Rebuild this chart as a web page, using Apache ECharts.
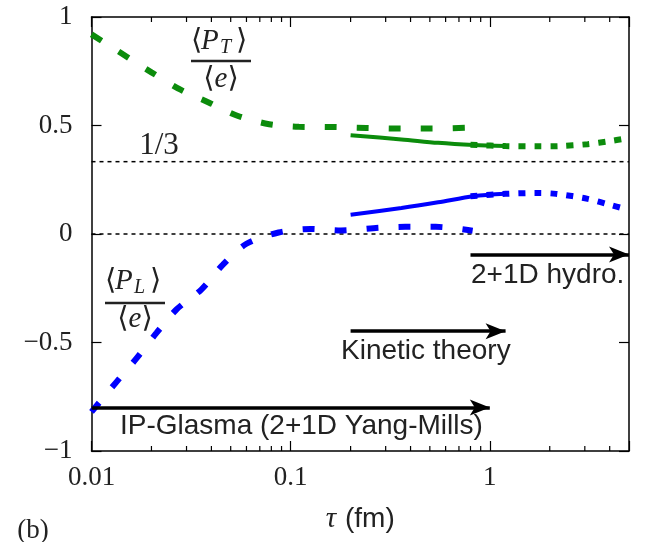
<!DOCTYPE html>
<html><head><meta charset="utf-8">
<script src="https://cdn.jsdelivr.net/npm/echarts@6/dist/echarts.min.js"></script>
<style>html,body{margin:0;padding:0;background:#fff}#c{width:647px;height:542px}</style>
</head><body><div id="c"></div>
<script>
// ---- axis ticks ----
const xMajorTicks = [0.01, 0.1, 1];
const xTickLabels = ['0.01', '0.1', '1'];
const xMinorTicks = [0.02,0.03,0.04,0.05,0.06,0.07,0.08,0.09,0.2,0.3,0.4,0.5,0.6,0.7,0.8,0.9,2,3,4];
const yTickValues = [-1, -0.5, 0, 0.5, 1];

// ---- <P_T>/<e> ----
const ptGlasmaTau = [0.01, 0.014, 0.02, 0.028, 0.039, 0.054, 0.078, 0.11, 0.16, 0.24, 0.35, 0.5, 0.8];
const ptGlasma    = [0.92, 0.835, 0.745, 0.665, 0.605, 0.545, 0.506, 0.494, 0.493, 0.489, 0.486, 0.486, 0.49];
const ptKineticTau = [0.2, 0.36, 0.55, 0.83, 1.2];
const ptKinetic    = [0.455, 0.436, 0.42, 0.41, 0.405];
const ptHydroTau = [0.8, 1.2, 1.75, 2.2, 3.1, 4.0, 4.8];
const ptHydro    = [0.411, 0.405, 0.404, 0.405, 0.414, 0.428, 0.44];

// ---- <P_L>/<e> ----
const plGlasmaTau = [0.01, 0.0132, 0.0169, 0.0212, 0.0267, 0.0356, 0.0457, 0.06, 0.087, 0.126, 0.179, 0.26, 0.376, 0.536, 0.82];
const plGlasma    = [-0.82, -0.687, -0.571, -0.456, -0.348, -0.256, -0.141, -0.045, 0.007, 0.023, 0.016, 0.027, 0.033, 0.033, 0.015];
const plKineticTau = [0.2, 0.36, 0.55, 0.83, 1.2];
const plKinetic    = [0.089, 0.12, 0.146, 0.174, 0.185];
const plHydroTau = [0.8, 1.2, 1.75, 2.15, 3.1, 4.0, 4.8];
const plHydro    = [0.174, 0.185, 0.189, 0.185, 0.162, 0.135, 0.115];

// ---- reference lines ----
const refLevels = [1/3, 0];
const refRange = [0.01, 5];

// ---- arrows (regimes) ----
const arrowNames = ['2+1D hydro.', 'Kinetic theory', 'IP-Glasma (2+1D Yang-Mills)'];
const arrowStart = [0.8, 0.2, 0.01];
const arrowEnd   = [5, 1.2, 1.0];
const arrowLevel = [-0.095, -0.448, -0.80];

const GREEN = '#0c8c0c', BLUE = '#0000ff', INK = '#222';
const SERIF = '"Liberation Serif","DejaVu Serif",serif';
const SANS = '"Liberation Sans",Arial,sans-serif';

const zip = (a, b) => a.map((v, i) => [v, b[i]]);

function lineSeries(xs, ys, color, width, dash) {
  return {
    type: 'line', data: zip(xs, ys), showSymbol: false, symbol: 'none',
    smooth: 0.3, silent: true, clip: false,
    lineStyle: { color: color, width: width, type: dash, cap: 'butt' }
  };
}

const chart = echarts.init(document.getElementById('c'), null, { renderer: 'canvas' });

const axisCommonX = {
  type: 'log', logBase: 10, min: 0.01, max: 5,
  axisLine: { show: true, onZero: false, lineStyle: { color: '#000', width: 1.5 } },
  axisTick: { show: true, inside: true, length: 10, lineStyle: { color: '#000', width: 1.2 } },
  splitLine: { show: false }, minorTick: { show: false }
};
const axisCommonY = {
  type: 'value', min: -1, max: 1, interval: 0.5,
  axisLine: { show: true, onZero: false, lineStyle: { color: '#000', width: 1.5 } },
  axisTick: { show: true, inside: true, length: 10, lineStyle: { color: '#000', width: 1.2 } },
  splitLine: { show: false }
};

const series = [];
// reference dotted lines
refLevels.forEach(l => {
  series.push({
    type: 'line', data: [[refRange[0], l], [refRange[1], l]], showSymbol: false, symbol: 'none',
    silent: true, lineStyle: { color: '#000', width: 1.5, type: [4, 4] }
  });
});
series.push(lineSeries(ptGlasmaTau, ptGlasma, GREEN, 6, [12, 20]));
series.push(lineSeries(ptKineticTau, ptKinetic, GREEN, 4, 'solid'));
series.push(lineSeries(ptHydroTau, ptHydro, GREEN, 6, [7, 9]));
series.push(lineSeries(plGlasmaTau, plGlasma, BLUE, 6, [12, 20]));
series.push(lineSeries(plKineticTau, plKinetic, BLUE, 4, 'solid'));
series.push(lineSeries(plHydroTau, plHydro, BLUE, 6, [7, 9]));
// arrows
series.push({
  type: 'line', data: [], silent: true,
  markLine: {
    silent: true, symbol: ['none', 'arrow'], symbolSize: [12, 20], animation: false,
    label: { show: false },
    lineStyle: { color: '#000', width: 3.5, type: 'solid' },
    emphasis: { disabled: true },
    data: arrowStart.map((s, i) => [{ coord: [s, arrowLevel[i]] }, { coord: [arrowEnd[i], arrowLevel[i]] }])
  }
});
// minor ticks on log axis (bottom and top)
series.push({
  type: 'custom', silent: true, clip: false,
  data: xMinorTicks.map(v => [v, 0]), encode: { x: 0, y: 1 },
  renderItem: (params, api) => {
    const v = api.value(0);
    const b = api.coord([v, -1]), t = api.coord([v, 1]);
    return { type: 'group', children: [
      { type: 'line', shape: { x1: b[0], y1: b[1], x2: b[0], y2: b[1] - 5 }, style: { stroke: '#000', lineWidth: 1.2 } },
      { type: 'line', shape: { x1: t[0], y1: t[1], x2: t[0], y2: t[1] + 5 }, style: { stroke: '#000', lineWidth: 1.2 } }
    ]};
  }
});

function txt(x, y, text, font, size, opts) {
  return Object.assign({
    type: 'text', x: x, y: y, silent: true,
    style: Object.assign({ text: text, fontFamily: font, fontSize: size, fill: INK, align: 'left', verticalAlign: 'middle' }, opts || {})
  });
}
function frac(cx, numY, barY, denY, sub) {
  return { type: 'group', silent: true, children: [
    txt(cx - 30, numY, '⟨', SERIF, 29),
    txt(cx - 20, numY, 'P', SERIF, 29, { fontStyle: 'italic' }),
    txt(cx - 1, numY + 7, sub, SERIF, 20, { fontStyle: 'italic' }),
    txt(cx + 15, numY, '⟩', SERIF, 29),
    { type: 'line', shape: { x1: cx - 30, y1: barY, x2: cx + 30, y2: barY }, style: { stroke: INK, lineWidth: 2.6 } },
    { type: 'text', x: cx, y: denY, style: { text: '{n|⟨}{e|e}{n|⟩}', align: 'center', verticalAlign: 'middle',
        rich: { n: { fontFamily: SERIF, fontSize: 29, fill: INK }, e: { fontFamily: SERIF, fontSize: 29, fontStyle: 'italic', fill: INK } } } }
  ]};
}

chart.setOption({
  animation: false,
  backgroundColor: '#fff',
  grid: { left: 91.5, right: 18, top: 17, bottom: 91 },
  xAxis: [
    Object.assign({}, axisCommonX, {
      position: 'bottom',
      axisLabel: {
        show: true, margin: 13, fontFamily: SERIF, fontSize: 27, color: INK,
        formatter: v => { const i = xMajorTicks.findIndex(m => Math.abs(m - v) / m < 1e-6); return i >= 0 ? xTickLabels[i] : ''; }
      }
    }),
    Object.assign({}, axisCommonX, { position: 'top', axisLabel: { show: false } })
  ],
  yAxis: [
    Object.assign({}, axisCommonY, {
      position: 'left',
      axisLabel: {
        show: true, margin: 19, fontFamily: SERIF, fontSize: 27, color: INK,
        formatter: v => yTickValues.some(t => Math.abs(t - v) < 1e-9) ? String(v).replace('-', '−') : ''
      }
    }),
    Object.assign({}, axisCommonY, { position: 'right', axisLabel: { show: false } })
  ],
  series: series,
  graphic: [
    txt(471, 275, arrowNames[0], SANS, 28),
    txt(341, 351, arrowNames[1], SANS, 28),
    txt(120, 426, arrowNames[2], SANS, 28),
    { type: 'text', x: 159, y: 146, silent: true, style: { text: '1/3', fontFamily: SERIF, fontSize: 31, fill: INK, align: 'center', verticalAlign: 'middle' } },
    frac(221, 41, 61, 79, 'T'),
    frac(135, 281, 303, 319, 'L'),
    { type: 'text', x: 331, y: 519, silent: true, style: { text: 'τ', fontFamily: SERIF, fontStyle: 'italic', fontSize: 29, fill: INK, align: 'center', verticalAlign: 'middle' } },
    { type: 'text', x: 345, y: 519, silent: true, style: { text: '(fm)', fontFamily: SANS, fontSize: 28, fill: INK, align: 'left', verticalAlign: 'middle' } },
    { type: 'text', x: 33, y: 531, silent: true, style: { text: '(b)', fontFamily: SERIF, fontSize: 27, fill: INK, align: 'center', verticalAlign: 'middle' } }
  ]
});
</script>
</body></html>
